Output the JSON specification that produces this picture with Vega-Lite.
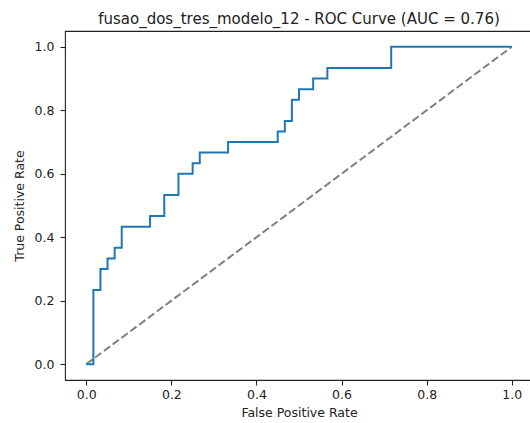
{
  "$schema": "https://vega.github.io/schema/vega-lite/v6.json",
  "autosize": "none",
  "width": 468,
  "height": 349,
  "padding": {"left": 65, "top": 31, "right": 0, "bottom": 43},
  "config": {
    "font": "DejaVu Sans",
    "view": {"stroke": "#222222", "strokeWidth": 1.1},
    "axis": {
      "grid": false,
      "domain": false,
      "tickColor": "#222222",
      "tickSize": 5,
      "tickWidth": 1.1,
      "labelFont": "DejaVu Sans",
      "labelFontSize": 12.5,
      "labelColor": "#222222",
      "titleFont": "DejaVu Sans",
      "titleFontSize": 12.5,
      "titleFontWeight": "normal",
      "titleColor": "#222222"
    },
    "title": {"font": "DejaVu Sans", "fontSize": 15, "fontWeight": "normal", "color": "#222222"}
  },
  "title": {"text": "fusao_dos_tres_modelo_12 - ROC Curve (AUC = 0.76)", "offset": 4},
  "datasets": {
    "roc": [
      {"i": 0, "fpr": 0.0, "tpr": 0.0},
      {"i": 1, "fpr": 0.0167, "tpr": 0.0},
      {"i": 2, "fpr": 0.0167, "tpr": 0.2333},
      {"i": 3, "fpr": 0.0333, "tpr": 0.2333},
      {"i": 4, "fpr": 0.0333, "tpr": 0.3},
      {"i": 5, "fpr": 0.05, "tpr": 0.3},
      {"i": 6, "fpr": 0.05, "tpr": 0.3333},
      {"i": 7, "fpr": 0.0667, "tpr": 0.3333},
      {"i": 8, "fpr": 0.0667, "tpr": 0.3667},
      {"i": 9, "fpr": 0.0833, "tpr": 0.3667},
      {"i": 10, "fpr": 0.0833, "tpr": 0.4333},
      {"i": 11, "fpr": 0.15, "tpr": 0.4333},
      {"i": 12, "fpr": 0.15, "tpr": 0.4667},
      {"i": 13, "fpr": 0.1833, "tpr": 0.4667},
      {"i": 14, "fpr": 0.1833, "tpr": 0.5333},
      {"i": 15, "fpr": 0.2167, "tpr": 0.5333},
      {"i": 16, "fpr": 0.2167, "tpr": 0.6},
      {"i": 17, "fpr": 0.25, "tpr": 0.6},
      {"i": 18, "fpr": 0.25, "tpr": 0.6333},
      {"i": 19, "fpr": 0.2667, "tpr": 0.6333},
      {"i": 20, "fpr": 0.2667, "tpr": 0.6667},
      {"i": 21, "fpr": 0.3333, "tpr": 0.6667},
      {"i": 22, "fpr": 0.3333, "tpr": 0.7},
      {"i": 23, "fpr": 0.45, "tpr": 0.7},
      {"i": 24, "fpr": 0.45, "tpr": 0.7333},
      {"i": 25, "fpr": 0.4667, "tpr": 0.7333},
      {"i": 26, "fpr": 0.4667, "tpr": 0.7667},
      {"i": 27, "fpr": 0.4833, "tpr": 0.7667},
      {"i": 28, "fpr": 0.4833, "tpr": 0.8333},
      {"i": 29, "fpr": 0.5, "tpr": 0.8333},
      {"i": 30, "fpr": 0.5, "tpr": 0.8667},
      {"i": 31, "fpr": 0.5333, "tpr": 0.8667},
      {"i": 32, "fpr": 0.5333, "tpr": 0.9},
      {"i": 33, "fpr": 0.5667, "tpr": 0.9},
      {"i": 34, "fpr": 0.5667, "tpr": 0.9333},
      {"i": 35, "fpr": 0.7167, "tpr": 0.9333},
      {"i": 36, "fpr": 0.7167, "tpr": 1.0},
      {"i": 37, "fpr": 1.0, "tpr": 1.0}
    ],
    "diag": [
      {"i": 0, "fpr": 0.0, "tpr": 0.0},
      {"i": 1, "fpr": 1.0, "tpr": 1.0}
    ]
  },
  "encoding": {
    "x": {
      "field": "fpr", "type": "quantitative",
      "scale": {"domain": [-0.05, 1.05], "nice": false, "zero": false},
      "axis": {"values": [0, 0.2, 0.4, 0.6, 0.8, 1.0], "format": ".1f", "title": "False Positive Rate", "labelPadding": 3, "titlePadding": 6}
    },
    "y": {
      "field": "tpr", "type": "quantitative",
      "scale": {"domain": [-0.05, 1.05], "nice": false, "zero": false},
      "axis": {"values": [0, 0.2, 0.4, 0.6, 0.8, 1.0], "format": ".1f", "title": "True Positive Rate", "labelPadding": 6, "titlePadding": 8}
    },
    "order": {"field": "i", "type": "quantitative"}
  },
  "layer": [
    {
      "data": {"name": "diag"},
      "mark": {"type": "line", "color": "#808080", "strokeWidth": 2, "strokeDash": [7.7, 3.3], "clip": false}
    },
    {
      "data": {"name": "roc"},
      "mark": {"type": "line", "color": "#1f77b4", "strokeWidth": 2, "clip": false}
    }
  ]
}
